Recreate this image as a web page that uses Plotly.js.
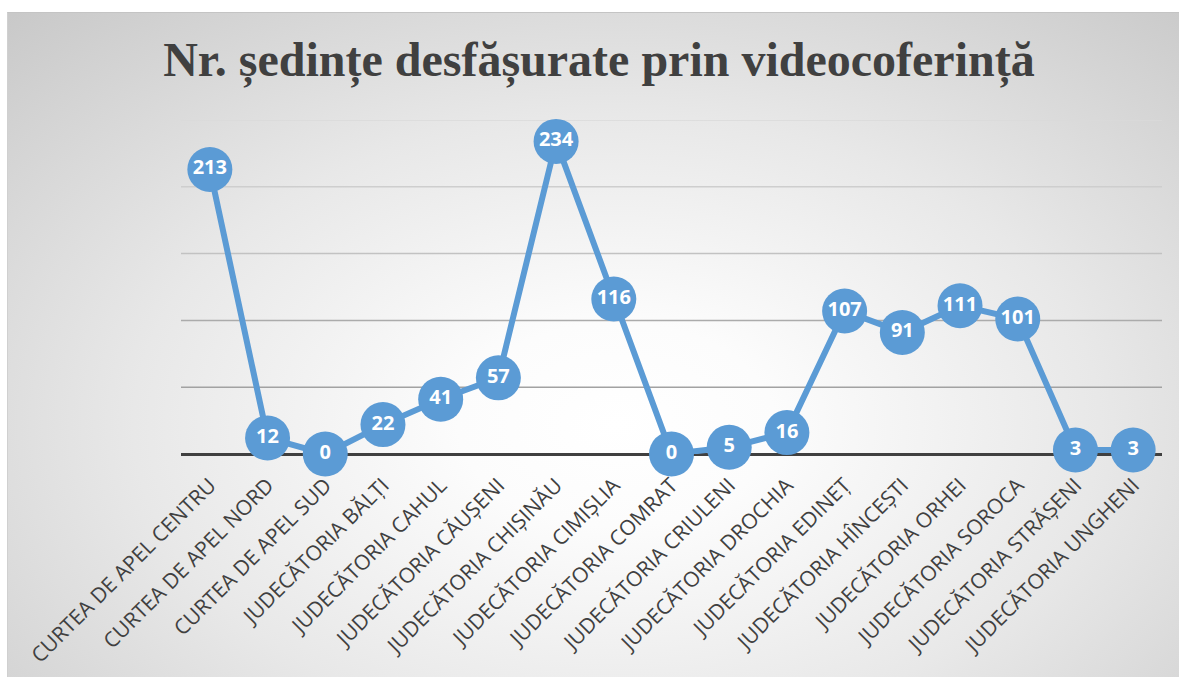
<!DOCTYPE html>
<html>
<head>
<meta charset="utf-8">
<script src="https://cdn.plot.ly/plotly-3.0.1.min.js"></script>
<style>
  html, body { margin: 0; padding: 0; background: #ffffff; }
  #wrap { position: relative; width: 1179px; height: 677px; overflow: hidden; background: #ffffff; }
  #bg { position: absolute; left: 7px; top: 12px; right: 0; bottom: 0;
        border-top: 1px solid #c4c4c4; border-left: 1px solid #d0d0d0;
        background: radial-gradient(ellipse 75% 85% at 52% 62%, #ffffff 0%, #fcfcfc 18%, #e8e8e8 55%, #c9c9c9 100%); }
  #chart { position: absolute; left: 0; top: 0; width: 1179px; height: 677px; }
</style>
</head>
<body>
<div id="wrap">
  <div id="bg"></div>
  <div id="chart"></div>
</div>
<script>
const chartTitle = "Nr. ședințe desfășurate prin videocoferință";
const categories = [
  "CURTEA DE APEL CENTRU",
  "CURTEA DE APEL NORD",
  "CURTEA DE APEL SUD",
  "JUDECĂTORIA BĂLȚI",
  "JUDECĂTORIA CAHUL",
  "JUDECĂTORIA CĂUȘENI",
  "JUDECĂTORIA CHIȘINĂU",
  "JUDECĂTORIA CIMIȘLIA",
  "JUDECĂTORIA COMRAT",
  "JUDECĂTORIA CRIULENI",
  "JUDECĂTORIA DROCHIA",
  "JUDECĂTORIA EDINEȚ",
  "JUDECĂTORIA HÎNCEȘTI",
  "JUDECĂTORIA ORHEI",
  "JUDECĂTORIA SOROCA",
  "JUDECĂTORIA STRĂȘENI",
  "JUDECĂTORIA UNGHENI"
];
const values = [213, 12, 0, 22, 41, 57, 234, 116, 0, 5, 16, 107, 91, 111, 101, 3, 3];
const yRange = [0, 250];
const gridValues = [50, 100, 150, 200, 250];
const gridColors = ['#a2a2a2', '#ababab', '#c2c2c2', '#cecece', '#dadada'];

const trace = {
  type: 'scatter',
  mode: 'lines+markers+text',
  x: categories,
  y: values,
  text: values.map(String),
  textposition: 'middle center',
  cliponaxis: false,
  hoverinfo: 'skip',
  line: { color: '#5b9bd5', width: 6 },
  marker: { size: 45, color: '#5b9bd5' },
  textfont: { family: 'Open Sans', size: 20, color: '#ffffff', weight: 'bold' }
};

const gridShapes = gridValues.map((v, i) => ({
  type: 'line', xref: 'paper', x0: 0, x1: 1, yref: 'y', y0: v, y1: v,
  line: { color: gridColors[i], width: 1.5 }, layer: 'below'
}));

const layout = {
  width: 1179,
  height: 677,
  margin: { l: 181, r: 17, t: 120, b: 223, pad: 0 },
  paper_bgcolor: 'rgba(0,0,0,0)',
  plot_bgcolor: 'rgba(0,0,0,0)',
  showlegend: false,
  shapes: gridShapes,
  title: {
    text: '<b>' + chartTitle + '</b>',
    font: { family: 'Liberation Serif', size: 48, color: '#404040' },
    x: 0.508, xanchor: 'center',
    y: 0.913, yanchor: 'middle'
  },
  xaxis: {
    type: 'category',
    range: [-0.5, categories.length - 0.5],
    tickangle: -45,
    tickfont: { family: 'Open Sans', size: 21, color: '#404040' },
    ticklabelstandoff: 14,
    showgrid: false, zeroline: false, showline: false, ticks: '',
    automargin: false, fixedrange: true
  },
  yaxis: {
    range: yRange,
    showticklabels: false,
    showgrid: false,
    zeroline: true,
    zerolinecolor: '#404040',
    zerolinewidth: 3,
    showline: false, ticks: '',
    automargin: false, fixedrange: true
  }
};

Plotly.newPlot('chart', [trace], layout, { displayModeBar: false, staticPlot: true });
</script>
</body>
</html>
